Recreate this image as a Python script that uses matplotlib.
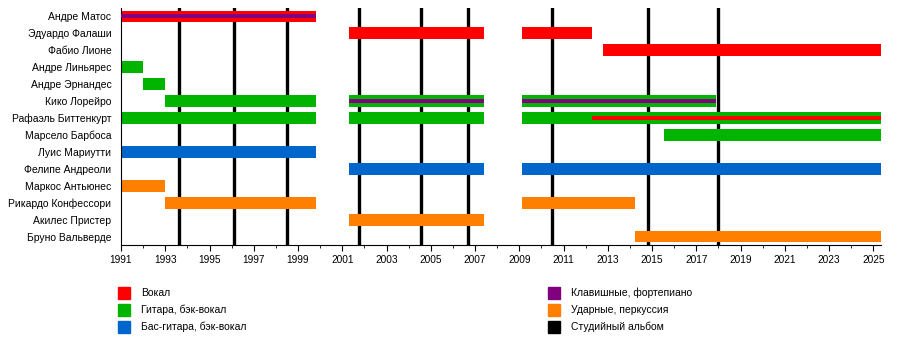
import matplotlib
matplotlib.use("Agg")
import matplotlib.pyplot as plt
from matplotlib.patches import Rectangle
from matplotlib.ticker import FixedLocator

plt.rcParams["font.family"] = ["Liberation Sans", "DejaVu Sans"]

END = 2025.35

members = [
    "Андре Матос", "Эдуардо Фалаши", "Фабио Лионе", "Андре Линьярес",
    "Андре Эрнандес", "Кико Лорейро", "Рафаэль Биттенкурт", "Марсело Барбоса",
    "Луис Мариутти", "Фелипе Андреоли", "Маркос Антьюнес", "Рикардо Конфессори",
    "Акилес Пристер", "Бруно Вальверде",
]

# (member, start, end)
vocals = [
    ("Андре Матос", 1991.0, 1999.82),
    ("Эдуардо Фалаши", 2001.31, 2007.42),
    ("Эдуардо Фалаши", 2009.12, 2012.3),
    ("Фабио Лионе", 2012.78, END),
]
guitar = [
    ("Андре Линьярес", 1991.0, 1992.0),
    ("Андре Эрнандес", 1992.0, 1993.0),
    ("Кико Лорейро", 1993.0, 1999.82),
    ("Кико Лорейро", 2001.31, 2007.42),
    ("Кико Лорейро", 2009.12, 2017.88),
    ("Рафаэль Биттенкурт", 1991.0, 1999.82),
    ("Рафаэль Биттенкурт", 2001.31, 2007.42),
    ("Рафаэль Биттенкурт", 2009.12, END),
    ("Марсело Барбоса", 2015.55, END),
]
bass = [
    ("Луис Мариутти", 1991.0, 1999.82),
    ("Фелипе Андреоли", 2001.31, 2007.42),
    ("Фелипе Андреоли", 2009.12, END),
]
drums = [
    ("Маркос Антьюнес", 1991.0, 1993.0),
    ("Рикардо Конфессори", 1993.0, 1999.82),
    ("Рикардо Конфессори", 2009.12, 2014.22),
    ("Акилес Пристер", 2001.31, 2007.42),
    ("Бруно Вальверде", 2014.22, END),
]
# thin overlay lines
keys_lines = [
    ("Андре Матос", 1991.0, 1999.82),
    ("Кико Лорейро", 2001.31, 2007.42),
    ("Кико Лорейро", 2009.12, 2017.88),
]
vocal_lines = [
    ("Рафаэль Биттенкурт", 2012.3, END),
]

albums = [1993.6, 1996.1, 1998.5, 2001.75, 2004.55, 2006.7, 2010.5, 2014.8, 2018.0]
major_years = list(range(1991, 2026, 2))
minor_years = list(range(1991, 2026))

legend_left = [("Вокал", "#ff0000"), ("Гитара, бэк-вокал", "#00b400"),
               ("Бас-гитара, бэк-вокал", "#0066cc")]
legend_right = [("Клавишные, фортепиано", "#800080"), ("Ударные, перкуссия", "#ff8000"),
                ("Студийный альбом", "#000000")]

fig = plt.figure(figsize=(9, 3.64), dpi=100)
ax = fig.add_axes([121 / 900, 1 - 245 / 364, 760 / 900, 237 / 364])

for x in albums:
    ax.axvline(x, color="black", lw=2.4, zorder=1)

row = {m: i for i, m in enumerate(members)}


def draw(spans, color, height, z):
    for m, s, e in spans:
        ax.barh(row[m], e - s, left=s, height=height, color=color,
                edgecolor="none", zorder=z)


draw(vocals, "#ff0000", 0.7, 2)
draw(guitar, "#00b400", 0.7, 2)
draw(bass, "#0066cc", 0.7, 2)
draw(drums, "#ff8000", 0.7, 2)
draw(keys_lines, "#800080", 0.24, 3)
draw(vocal_lines, "#ff0000", 0.2, 3)

ax.set_xlim(1991, END)
ax.set_ylim(len(members) - 0.5, -0.5)
ax.set_yticks(range(len(members)))
ax.set_yticklabels(members, fontsize=7.5)
ax.tick_params(axis="y", length=0, pad=7)
ax.xaxis.set_major_locator(FixedLocator(major_years))
ax.xaxis.set_minor_locator(FixedLocator(minor_years))
ax.tick_params(axis="x", which="major", length=4, labelsize=7.3, pad=3)
ax.tick_params(axis="x", which="minor", length=2)
for side in ("top", "right"):
    ax.spines[side].set_visible(False)
ax.spines["left"].set_linewidth(0.8)
ax.spines["bottom"].set_linewidth(0.8)

# legend
for col_x, items in ((118, legend_left), (548, legend_right)):
    for i, (label, color) in enumerate(items):
        yc = 293 + i * 17
        fig.add_artist(Rectangle((col_x / 900, 1 - (yc + 6) / 364), 12 / 900, 12 / 364,
                                 transform=fig.transFigure, color=color))
        fig.text((col_x + 23) / 900, 1 - yc / 364, label, fontsize=7.5, va="center")

fig.savefig("out.png", dpi=100)
